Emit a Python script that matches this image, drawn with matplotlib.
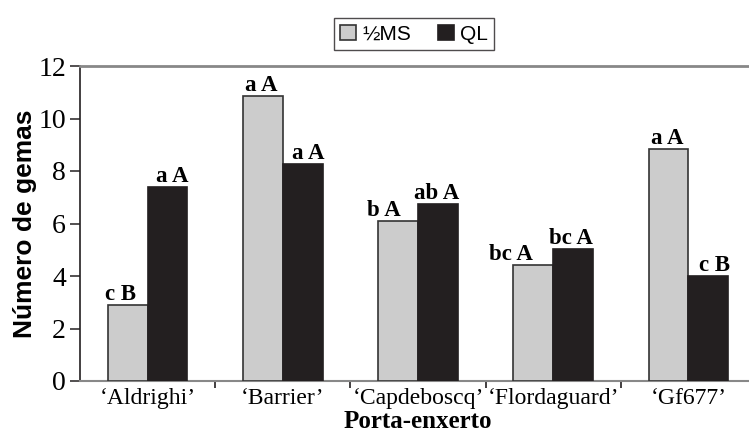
import numpy as np
import matplotlib.pyplot as plt
from matplotlib.ticker import FixedLocator

porta_enxerto = ["‘Aldrighi’", "‘Barrier’", "‘Capdeboscq’", "‘Flordaguard’", "‘Gf677’"]
ms_meio = [2.9, 10.85, 6.08, 4.42, 8.83]
ql = [7.38, 8.28, 6.76, 5.03, 4.01]
letras_ms = ["c B", "a A", "b A", "bc A", "a A"]
letras_ql = ["a A", "a A", "ab A", "bc A", "c B"]

W, H = 749, 434
fig = plt.figure(figsize=(W / 100, H / 100), dpi=100)
# eixo passa um pouco da borda direita da figura
ax = fig.add_axes([80 / W, (H - 381) / H, (756 - 80) / W, (381 - 66) / H])

x = np.arange(len(porta_enxerto)) + 0.5
larg = 0.295
b1 = ax.bar(x - larg / 2, ms_meio, larg, color="#cccccc", edgecolor="#333333",
            linewidth=1.2, label="½MS", zorder=3)
b2 = ax.bar(x + larg / 2, ql, larg, color="#231f20", edgecolor="#231f20",
            linewidth=1.2, label="QL", zorder=3)

# deslocamento horizontal das letras (pixels) para nao encavalar
desl_ms = [-7, -2, -14, -22, -1]
desl_ql = [5, 6, -1, -2, 6]
for xs, vals, letras, desl in [(x - larg / 2, ms_meio, letras_ms, desl_ms),
                               (x + larg / 2, ql, letras_ql, desl_ql)]:
    for xi, v, t, d in zip(xs, vals, letras, desl):
        ax.annotate(t, (xi, v), xytext=(d, 5), textcoords="offset pixels",
                    ha="center", va="baseline", fontsize=16.5,
                    fontweight="bold", family="Liberation Serif")

ax.set_xlim(0, 5)
ax.set_ylim(0, 12)
ax.set_yticks(range(0, 13, 2))
ax.set_xticks(x)
ax.set_xticklabels(porta_enxerto, family="Liberation Serif", fontsize=17)
ax.xaxis.set_minor_locator(FixedLocator([1, 2, 3, 4]))
ax.tick_params(axis="x", which="major", length=0, pad=5)
ax.tick_params(axis="x", which="minor", length=5, width=1.2, color="#231f20", direction="out")
ax.tick_params(axis="y", length=7, width=1.1, color="#231f20", direction="out", pad=3)
for lab in ax.get_yticklabels():
    lab.set_family("Liberation Serif")
    lab.set_fontsize(20)

ax.spines["left"].set_color("#231f20")
ax.spines["left"].set_linewidth(1.2)
ax.spines["bottom"].set_color("#888888")
ax.spines["bottom"].set_linewidth(1.5)
ax.spines["top"].set_color("#888888")
ax.spines["top"].set_linewidth(2)
ax.spines["right"].set_visible(False)

ax.set_ylabel("Número de gemas", family="Liberation Sans", fontweight="bold",
              fontsize=19, labelpad=1)
ax.set_xlabel("Porta-enxerto", family="Liberation Serif", fontweight="bold",
              fontsize=18, labelpad=1)

leg = fig.legend(handles=[b1, b2], loc="center", bbox_to_anchor=(414 / W, 1 - 34 / H),
                 ncol=2, frameon=True, fancybox=False, edgecolor="#231f20",
                 prop={"family": "Liberation Sans", "size": 15},
                 handlelength=0.75, handleheight=0.75, handletextpad=0.3,
                 columnspacing=1.3, borderpad=0.3)
leg.get_frame().set_linewidth(1.0)

fig.savefig("out.png", dpi=100)
